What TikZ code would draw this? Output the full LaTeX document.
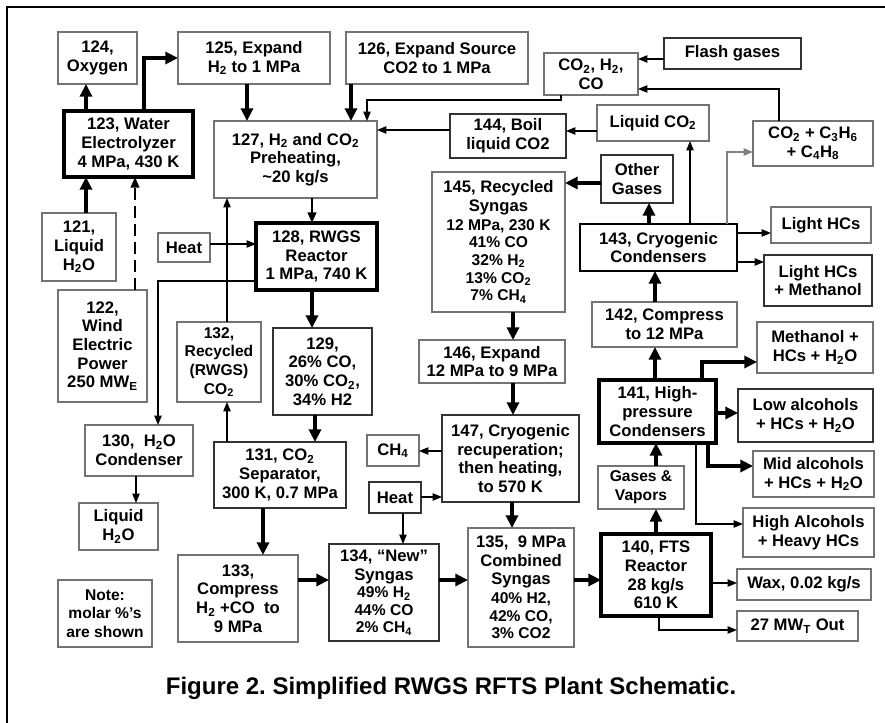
\documentclass[tikz,border=0pt]{standalone}
\usepackage{fontspec}
\setmainfont{Liberation Sans}
\usetikzlibrary{arrows.meta}
\frenchspacing
\newcommand\sbs[1]{\textsubscript{#1}}
\newcommand\sm{\fontsize{11.7}{13}\selectfont}
\newcommand\mybox[7]{%
  \pgfmathsetmacro\bxw{(#5-#3)*0.75}%
  \pgfmathsetmacro\bxh{(#6-#4)*0.75}%
  \node[#1, minimum width=\bxw pt, minimum height=\bxh pt] (#2) at ({(#3+#5)/2},{(#4+#6)/2}) {#7};%
}
\begin{document}
\begin{tikzpicture}[x=0.75pt,y=-0.75pt,
  base/.style={font=\bfseries\fontsize{12.5}{14}\selectfont, align=center, inner sep=0pt, outer sep=0pt},
  gbox/.style={base, draw=black!55, line width=1pt},
  dbox/.style={base, draw=black!80, line width=1pt},
  tbox/.style={base, draw=black, line width=2.5pt},
  mbox/.style={base, draw=black, line width=1.6pt},
  tk/.style={line width=3pt, -{Triangle[length=9.5pt,width=9pt]}},
  md/.style={line width=1.5pt, -{Triangle[length=8pt,width=6.5pt]}},
  tn/.style={line width=0.8pt, -{Triangle[length=7pt,width=5.5pt]}},
  dsh/.style={line width=1.5pt, dash pattern=on 9pt off 4.5pt, -{Triangle[length=8pt,width=6.5pt]}}
]
\useasboundingbox (0,0) rectangle (885,723);
\draw[line width=1.6pt] (7,726) -- (7,7) -- (888,7);

% boxes
\mybox{gbox}{n124}{58}{32}{137}{84}{124,\\Oxygen}
\mybox{gbox}{n125}{178}{32}{330}{84}{125, Expand\\H\sbs{2} to 1 MPa}
\mybox{gbox}{n126}{346}{32}{528}{84}{126, Expand Source\\CO2 to 1 MPa}
\mybox{gbox}{nCO}{544}{53}{638}{95}{CO\sbs{2}, H\sbs{2},\\CO}
\mybox{dbox}{nFlash}{664}{38}{801}{69}{Flash gases}
\mybox{tbox}{n123}{64}{111}{193}{177}{123, Water\\Electrolyzer\\4 MPa, 430 K}
\mybox{gbox}{n127}{214}{121}{377}{198}{127, H\sbs{2} and CO\sbs{2}\\Preheating,\\\textasciitilde20 kg/s}
\mybox{dbox}{n144}{450}{114}{566}{158}{144, Boil\\liquid CO2}
\mybox{gbox}{nLiqCO}{597}{105}{709}{141}{Liquid CO\sbs{2}}
\mybox{gbox}{nC3}{753}{121}{873}{166}{CO\sbs{2} + C\sbs{3}H\sbs{6}\\+ C\sbs{4}H\sbs{8}}
\mybox{dbox}{nOther}{601}{155}{673}{203}{Other\\Gases}
\mybox{gbox}{n145}{432}{172}{565}{312}{145, Recycled\\Syngas\\\sm 12 MPa, 230 K\\[-0.8pt]\sm 41\% CO\\[-0.8pt]\sm 32\% H\sbs{2}\\[-0.8pt]\sm 13\% CO\sbs{2}\\[-0.8pt]\sm 7\% CH\sbs{4}}
\mybox{gbox}{nLHC}{771}{207}{871}{243}{Light HCs}
\mybox{dbox}{nLHM}{764}{255}{872}{306}{Light HCs\\+ Methanol}
\mybox{mbox}{n143}{580}{224}{737}{271}{143, Cryogenic\\Condensers}
\mybox{gbox}{n121}{42}{213}{116}{281}{121,\\Liquid\\H\sbs{2}O}
\mybox{gbox}{nHeatA}{158}{233}{210}{262}{Heat}
\mybox{tbox}{n128}{256}{223}{377}{290}{128, RWGS\\Reactor\\1 MPa, 740 K}
\mybox{gbox}{n122}{58}{290}{147}{402}{122,\\Wind\\Electric\\Power\\250 MW\sbs{E}}
\mybox{gbox}{n132}{177}{322}{261}{402}{\sm 132,\\\sm Recycled\\\sm (RWGS)\\\sm CO\sbs{2}}
\mybox{dbox}{n129}{273}{328}{372}{415}{129,\\26\% CO,\\30\% CO\sbs{2},\\34\% H2}
\mybox{gbox}{n146}{419}{340}{565}{383}{146, Expand\\12 MPa to 9 MPa}
\mybox{gbox}{n142}{592}{302}{737}{347}{142, Compress\\to 12 MPa}
\mybox{gbox}{nMeth}{757}{322}{873}{373}{Methanol +\\HCs + H\sbs{2}O}
\mybox{tbox}{n141}{599}{380}{716}{443}{141, High-\\pressure\\Condensers}
\mybox{dbox}{nLow}{738}{389}{873}{442}{Low alcohols\\+ HCs + H\sbs{2}O}
\mybox{gbox}{n130}{85}{425}{193}{476}{130,~~H\sbs{2}O\\Condenser}
\mybox{dbox}{n131}{214}{442}{346}{508}{131, CO\sbs{2}\\Separator,\\300 K, 0.7 MPa}
\mybox{dbox}{n147}{442}{415}{579}{502}{147, Cryogenic\\recuperation;\\then heating,\\to 570 K}
\mybox{gbox}{nCH4}{367}{435}{419}{466}{CH\sbs{4}}
\mybox{dbox}{nHeatB}{369}{482}{421}{513}{Heat}
\mybox{gbox}{nMid}{753}{451}{874}{497}{Mid alcohols\\+ HCs + H\sbs{2}O}
\mybox{gbox}{nGV}{598}{466}{684}{509}{\sm Gases \&\\\sm Vapors}
\mybox{gbox}{nHigh}{743}{508}{874}{557}{High Alcohols\\+ Heavy HCs}
\mybox{gbox}{nLiqW}{79}{503}{158}{550}{Liquid\\H\sbs{2}O}
\mybox{tbox}{n140}{601}{534}{711}{616}{140, FTS\\Reactor\\28 kg/s\\610 K}
\mybox{gbox}{nWax}{737}{569}{871}{600}{Wax, 0.02 kg/s}
\mybox{gbox}{nMWT}{737}{611}{858}{641}{27 MW\sbs{T} Out}
\mybox{gbox}{nNote}{58}{580}{152}{647}{\sm Note:\\\sm molar \%'s\\\sm are shown}
\mybox{gbox}{n133}{178}{555}{298}{642}{133,\\Compress\\H\sbs{2} +CO~~to\\9 MPa}
\mybox{dbox}{n134}{329}{544}{439}{641}{134, ``New''\\Syngas\\[-0.8pt]\sm 49\% H\sbs{2}\\[-0.8pt]\sm 44\% CO\\[-0.8pt]\sm 2\% CH\sbs{4}}
\mybox{gbox}{n135}{468}{528}{574}{647}{135,~~9 MPa\\Combined\\Syngas\\\sm 40\% H2,\\[-0.8pt]\sm 42\% CO,\\[-0.8pt]\sm 3\% CO2}

\node[base, font=\bfseries\fontsize{18}{20}\selectfont, anchor=base] (nTitle) at (451,694) {Figure 2. Simplified RWGS RFTS Plant Schematic.};

% thick connectors
\draw[tk] (86,0 |- n123.north) -- (86,0 |- n124.south);
\draw[tk] (144,0 |- n123.north) |- (n125.west);
\draw[tk] (247,0 |- n125.south) -- (247,0 |- n127.north);
\draw[tk] (351,0 |- n126.south) -- (351,0 |- n127.north);
\draw[tk] (86,0 |- n121.north) -- (86,0 |- n123.south);
\draw[tk] (312,0 |- n128.south) -- (312,0 |- n129.north);
\draw[tk] (315,0 |- n129.south) -- (315,0 |- n131.north);
\draw[tk] (263,0 |- n131.south) -- (263,0 |- n133.north);
\draw[tk] (n133.east |- 0,580) -- (n134.west |- 0,580);
\draw[tk] (n134.east |- 0,580) -- (n135.west |- 0,580);
\draw[tk] (n135.east |- 0,580) -- (n140.west |- 0,580);
\draw[tk] (513,0 |- n145.south) -- (513,0 |- n146.north);
\draw[tk] (513,0 |- n146.south) -- (513,0 |- n147.north);
\draw[tk] (512,0 |- n147.south) -- (512,0 |- n135.north);
\draw[tk] (nOther.west |- 0,183) -- (n145.east |- 0,183);
\draw[tk] (649,0 |- n143.north) -- (649,0 |- nOther.south);
\draw[tk] (655,0 |- n142.north) -- (655,0 |- n143.south);
\draw[tk] (655,0 |- n141.north) -- (655,0 |- n142.south);
\draw[tk] (656,0 |- nGV.north) -- (656,0 |- n141.south);
\draw[tk] (656,0 |- n140.north) -- (656,0 |- nGV.south);
\draw[tk] (702,0 |- n141.north) |- (nMeth.west |- 0,362);
\draw[tk] (n141.east |- 0,413) -- (nLow.west |- 0,413);
\draw[tk] (708,0 |- n141.south) |- (nMid.west |- 0,466);

% medium / thin connectors
\draw[md] (312,0 |- n127.south) -- (312,0 |- n128.north);
\draw[tn] (561,0 |- nCO.south) -- (561,100) -| (367,0 |- n127.north);
\draw[tn] (n144.west |- 0,130) -- (n127.east |- 0,130);
\draw[tn] (nLiqCO.west |- 0,131) -- (n144.east |- 0,131);
\draw[tn] (nFlash.west |- 0,59) -- (nCO.east |- 0,59);
\draw[tn] (779,0 |- nC3.north) |- (nCO.east |- 0,89);
\draw[tn] (690,0 |- n143.north) -- (690,0 |- nLiqCO.south);
\draw[tn, draw=black!50] (727,0 |- n143.north) |- (nC3.west |- 0,152);
\draw[tn] (n143.east |- 0,233) -- (nLHC.west |- 0,233);
\draw[tn] (n143.east |- 0,262) -- (nLHM.west |- 0,262);
\draw[tn] (696,0 |- n141.south) |- (nHigh.west |- 0,524);
\draw[tn] (n140.east |- 0,583) -- (nWax.west |- 0,583);
\draw[tn] (659,0 |- n140.south) |- (nMWT.west |- 0,630);
\draw[tn] (n147.west |- 0,451) -- (nCH4.east |- 0,451);
\draw[tn] (nHeatB.east |- 0,497) -- (n147.west |- 0,497);
\draw[tn] (403,0 |- nHeatB.south) -- (403,0 |- n134.north);
\draw[tn] (227,0 |- n132.north) -- (227,0 |- n127.south);
\draw[tn] (227,0 |- n131.north) -- (227,0 |- n132.south);
\draw[tn] (nHeatA.east |- 0,244) -- (n128.west |- 0,244);
\draw[tn] (n128.west |- 0,281) -| (158,0 |- n130.north);
\draw[tn] (136,0 |- n130.south) -- (136,0 |- nLiqW.north);
\draw[dsh] (135,0 |- n122.north) -- (135,0 |- n123.south);
\end{tikzpicture}
\end{document}
